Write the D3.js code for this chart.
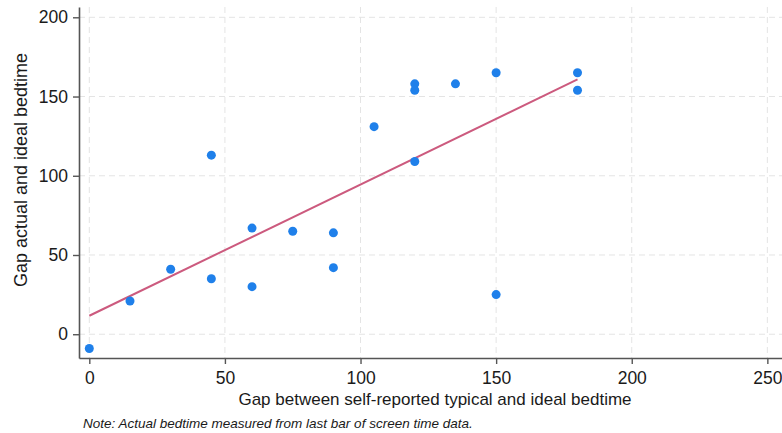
<!DOCTYPE html>
<html>
<head>
<meta charset="utf-8">
<script src="https://cdn.jsdelivr.net/npm/d3@7"></script>
<style>
  body { margin: 0; background: #fff; }
  text { font-family: "Liberation Sans", Arial, sans-serif; fill: #1a1a1a; }
</style>
</head>
<body>
<script>
// gap between self-reported typical and ideal bedtime (minutes)
const gapReported = [0, 15, 30, 45, 45, 60, 60, 75, 90, 90, 105, 120, 120, 120, 135, 150, 150, 180, 180]
// gap between actual and ideal bedtime (minutes)
const gapActual = [-9, 21, 41, 35, 113, 67, 30, 65, 64, 42, 131, 158, 154, 109, 158, 165, 25, 165, 154]
const xTicks = [0, 50, 100, 150, 200, 250]
const yTicks = [0, 50, 100, 150, 200]

const width = 782, height = 433
const svg = d3.select('body').append('svg')
  .attr('width', width)
  .attr('height', height)

const x = d3.scaleLinear().domain([-3.8, 255.4]).range([79, 782])
const y = d3.scaleLinear().domain([-15, 206.5]).range([358, 7])

const pts = gapReported.map((d, i) => ({x: d, y: gapActual[i]}))

// grid
svg.append('g').selectAll('line').data(xTicks).enter().append('line')
  .attr('x1', d => x(d)).attr('x2', d => x(d))
  .attr('y1', y.range()[1]).attr('y2', y.range()[0])
  .style('stroke', '#e4e4e4').style('stroke-width', 1).style('stroke-dasharray', '6,4')
svg.append('g').selectAll('line').data(yTicks).enter().append('line')
  .attr('x1', x.range()[0]).attr('x2', x.range()[1])
  .attr('y1', d => y(d)).attr('y2', d => y(d))
  .style('stroke', '#e4e4e4').style('stroke-width', 1).style('stroke-dasharray', '6,4')

// axes
const xAxis = svg.append('g')
  .attr('transform', `translate(0,${y.range()[0]})`)
  .call(d3.axisBottom(x).tickValues(xTicks).tickSize(6).tickPadding(8).tickSizeOuter(0))
const yAxis = svg.append('g')
  .attr('transform', `translate(${x.range()[0]},0)`)
  .call(d3.axisLeft(y).tickValues(yTicks).tickSize(6).tickPadding(5).tickSizeOuter(0))

;[xAxis, yAxis].forEach(g => {
  g.select('.domain').style('stroke', '#555').style('stroke-width', 1.6)
  g.selectAll('.tick line').style('stroke', '#555').style('stroke-width', 1.4)
  g.selectAll('.tick text')
    .style('font-family', '"Liberation Sans", Arial, sans-serif')
    .style('font-size', '17.5px').style('fill', '#1a1a1a')
})

// linear fit
const mx = d3.mean(gapReported), my = d3.mean(gapActual)
const slope = d3.sum(pts, d => (d.x - mx) * (d.y - my)) / d3.sum(pts, d => (d.x - mx) ** 2)
const intercept = my - slope * mx
const xr = d3.extent(gapReported)

svg.append('line')
  .attr('x1', x(xr[0])).attr('y1', y(intercept + slope * xr[0]))
  .attr('x2', x(xr[1])).attr('y2', y(intercept + slope * xr[1]))
  .style('stroke', '#cc5a7e').style('stroke-width', 2)

// points
svg.append('g').selectAll('circle').data(pts).enter().append('circle')
  .attr('cx', d => x(d.x))
  .attr('cy', d => y(d.y))
  .attr('r', 4.5)
  .style('fill', '#1f80ea')

// labels
svg.append('text')
  .attr('x', 435).attr('y', 405)
  .attr('text-anchor', 'middle')
  .style('font-size', '17px')
  .text('Gap between self-reported typical and ideal bedtime')

svg.append('text')
  .attr('transform', 'translate(27,170) rotate(-90)')
  .attr('text-anchor', 'middle')
  .style('font-size', '18px')
  .text('Gap actual and ideal bedtime')

svg.append('text')
  .attr('x', 83).attr('y', 428)
  .style('font-size', '13.5px')
  .style('font-style', 'italic')
  .text('Note: Actual bedtime measured from last bar of screen time data.')
</script>
</body>
</html>
